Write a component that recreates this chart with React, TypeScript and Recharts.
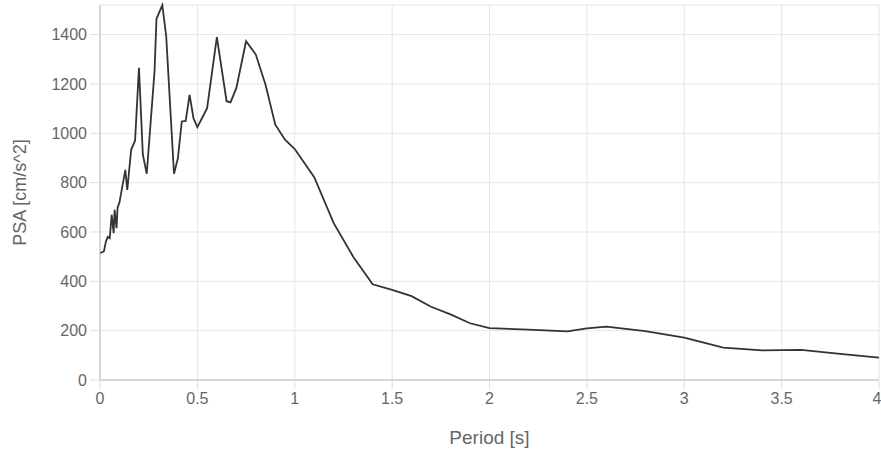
import { LineChart, Line, XAxis, YAxis, CartesianGrid, Label } from "recharts";

const periods = [
  0, 0.02, 0.03, 0.04, 0.05, 0.06, 0.07, 0.075, 0.085, 0.09, 0.1, 0.13, 0.14, 0.16,
  0.18, 0.2, 0.22, 0.24, 0.28, 0.29, 0.32, 0.34, 0.38, 0.4, 0.42, 0.44, 0.46, 0.48,
  0.5, 0.55, 0.6, 0.65, 0.67, 0.7, 0.75, 0.8, 0.85, 0.9, 0.95, 1.0, 1.1, 1.2, 1.3,
  1.4, 1.5, 1.6, 1.7, 1.8, 1.9, 2.0, 2.2, 2.4, 2.5, 2.6, 2.8, 3.0, 3.2, 3.4, 3.6,
  3.8, 4.0,
];

const psa = [
  514, 521, 560, 580, 575, 670, 595, 690, 615, 697, 720, 852, 770, 933,
  970, 1265, 913, 836, 1251, 1464, 1519, 1393, 836, 899, 1048, 1050, 1156, 1061,
  1025, 1102, 1390, 1130, 1125, 1183, 1373, 1319, 1197, 1035, 974, 936, 822, 636, 500,
  388, 365, 340, 297, 266, 230, 210, 204, 197, 209, 216, 198, 172, 131, 120, 122,
  106, 91,
];

const xTicks = [0, 0.5, 1, 1.5, 2, 2.5, 3, 3.5, 4];
const yTicks = [0, 200, 400, 600, 800, 1000, 1200, 1400];

const data = periods.map((t, i) => ({ period: t, psa: psa[i] }));

const FONT = "'Helvetica Neue', Helvetica, Arial, 'Liberation Sans', sans-serif";
const TEXT = "#666";

export default function App() {
  return (
    <div style={{ position: "absolute", left: 0, top: 0, background: "#fff" }}>
      <LineChart
        width={881}
        height={449}
        data={data}
        margin={{ top: 5, right: 2, left: 0, bottom: 0 }}
        style={{ fontFamily: FONT }}
      >
        <CartesianGrid stroke="#e6e6e6" />
        <XAxis
          dataKey="period"
          type="number"
          domain={[0, 4]}
          ticks={xTicks}
          height={69}
          tickSize={9}
          tickMargin={4}
          stroke="#bbb"
          tickLine={{ stroke: "#ddd" }}
          tick={{ fill: TEXT, fontSize: 16 }}
        >
          <Label value="Period [s]" position="insideBottom" offset={5} fill={TEXT} fontSize={19} />
        </XAxis>
        <YAxis
          type="number"
          domain={[0, 1520]}
          ticks={yTicks}
          width={100}
          tickSize={10}
          tickMargin={3}
          stroke="#bbb"
          tickLine={{ stroke: "#ddd" }}
          tick={{ fill: TEXT, fontSize: 16 }}
        >
          <Label
            value="PSA [cm/s^2]"
            angle={-90}
            position="insideLeft"
            offset={20}
            fill={TEXT}
            fontSize={18}
            style={{ textAnchor: "middle" }}
          />
        </YAxis>
        <Line
          type="linear"
          dataKey="psa"
          stroke="#333"
          strokeWidth={1.8}
          dot={false}
          isAnimationActive={false}
        />
      </LineChart>
    </div>
  );
}
